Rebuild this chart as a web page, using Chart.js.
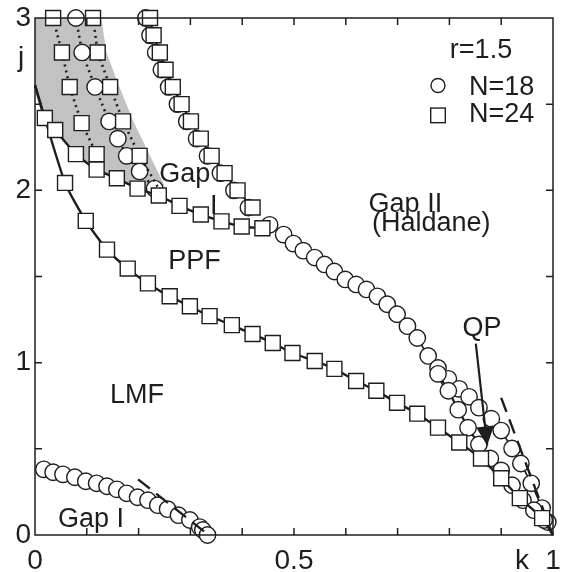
<!DOCTYPE html>
<html lang="en">
<head>
  <meta charset="UTF-8">
  <title>Phase diagram r=1.5</title>
  <script src="https://cdn.jsdelivr.net/npm/chart.js"></script>
  <style>
    * { margin: 0; padding: 0; box-sizing: border-box; }
    body { background: #fff; width: 565px; height: 572px; overflow: hidden; }
  </style>
</head>
<body>
<canvas id="phase" width="565" height="572"></canvas>

<script>
  // curve A: Gap I / PPF boundary (N=24 squares), starts at j axis
  const aX = [0, 0.019, 0.039, 0.079, 0.119, 0.158, 0.198, 0.239, 0.279, 0.320, 0.360, 0.399, 0.439];
  const aY = [2.61, 2.42, 2.35, 2.21, 2.12, 2.07, 2.01, 1.97, 1.91, 1.86, 1.82, 1.79, 1.78];

  // curve D: PPF / LMF boundary (N=24 squares)
  const dX = [0, 0.058, 0.098, 0.139, 0.179, 0.218, 0.260, 0.299, 0.337, 0.380, 0.420, 0.459, 0.497,
              0.540, 0.578, 0.620, 0.659, 0.699, 0.738, 0.778, 0.819, 0.861, 0.900, 0.936, 0.979, 1.0];
  const dY = [2.61, 2.043, 1.823, 1.656, 1.546, 1.460, 1.385, 1.327, 1.270, 1.218, 1.166, 1.114, 1.056,
              1.010, 0.964, 0.894, 0.837, 0.767, 0.704, 0.623, 0.537, 0.444, 0.329, 0.214, 0.098, 0];

  // curve B: upper Gap I boundary, squares (N=24) and circles (N=18)
  const bSqX = [0.222, 0.229, 0.241, 0.252, 0.266, 0.283, 0.301, 0.320, 0.341, 0.366, 0.391, 0.420];
  const bSqY = [3.0, 2.9, 2.8, 2.7, 2.6, 2.5, 2.4, 2.3, 2.2, 2.1, 2.0, 1.9];
  const bCiX = [0.214, 0.222, 0.233, 0.244, 0.258, 0.275, 0.293, 0.312, 0.333, 0.358, 0.384, 0.412];
  const bCiY = [3.0, 2.9, 2.8, 2.7, 2.6, 2.5, 2.4, 2.3, 2.2, 2.1, 2.0, 1.9];

  // Gap II (Haldane) boundary, N=18 circles
  const topX = [0.453, 0.480, 0.499, 0.518, 0.540, 0.559, 0.578, 0.599, 0.620, 0.640, 0.661, 0.680, 0.699, 0.719,
                0.738, 0.759, 0.778, 0.798, 0.819, 0.838, 0.857, 0.881, 0.900, 0.921, 0.938, 0.958, 0.979, 0.990];
  const topY = [1.800, 1.743, 1.691, 1.650, 1.610, 1.570, 1.529, 1.483, 1.454, 1.425, 1.385, 1.339, 1.281, 1.212,
                1.143, 1.039, 0.969, 0.906, 0.848, 0.802, 0.739, 0.675, 0.606, 0.502, 0.415, 0.300, 0.156, 0.075];

  // second N=18 branch running into k=1
  const cX = [0.778, 0.798, 0.817, 0.836, 0.857, 0.879, 0.900, 0.921, 0.942, 0.963, 0.983, 1.0];
  const cY = [0.935, 0.837, 0.727, 0.623, 0.525, 0.444, 0.375, 0.289, 0.202, 0.144, 0.087, 0];

  // lower Gap I boundary near origin, N=18 circles
  const llX = [0.017, 0.035, 0.054, 0.077, 0.098, 0.119, 0.139, 0.158, 0.177, 0.198, 0.218, 0.237,
               0.256, 0.277, 0.299, 0.318, 0.324, 0.333];
  const llY = [0.381, 0.364, 0.352, 0.335, 0.312, 0.300, 0.283, 0.265, 0.242, 0.219, 0.202, 0.173,
               0.150, 0.115, 0.087, 0.046, 0.029, 0.0];

  // dotted lines inside the shaded area
  const dot1X = [0.035, 0.052, 0.067, 0.090, 0.119];
  const dot1Y = [3.0, 2.80, 2.60, 2.39, 2.21];
  const dot2X = [0.079, 0.091, 0.116, 0.143, 0.160, 0.177, 0.202, 0.231];
  const dot2Y = [3.0, 2.80, 2.60, 2.40, 2.30, 2.20, 2.11, 2.01];
  const dot3X = [0.112, 0.121, 0.145, 0.170, 0.202, 0.237];
  const dot3Y = [3.0, 2.80, 2.60, 2.40, 2.20, 2.02];

  // shaded region outline
  const grayX = [0, 0.128, 0.138, 0.163, 0.190, 0.222, 0.250, 0.239, 0.198, 0.158, 0.119, 0.079, 0.039, 0.019, 0];
  const grayY = [3.0, 3.0, 2.80, 2.60, 2.40, 2.20, 2.03, 1.97, 2.01, 2.07, 2.12, 2.21, 2.35, 2.42, 2.61];

  // dashed guide lines and QP arrow
  const dashRX = [0.900, 0.998], dashRY = [0.796, 0.012];
  const dashLX = [0.199, 0.328], dashLY = [0.323, 0.017];
  const arrowX = [0.851, 0.873], arrowY = [1.11, 0.52];

  const xTickLabels = { 0: '0', 0.5: '0.5', 1: '1' };
  const yTickLabels = { 0: '0', 1: '1', 2: '2', 3: '3' };

  const INK = '#1e1e1e';
  const FONT = '"Liberation Sans", Arial, sans-serif';
  const R_CIRC = 8.2, R_SQ = 10.6;

  function pts(xs, ys) { return xs.map((x, i) => ({ x: x, y: ys[i] })); }

  const circ = { pointStyle: 'circle', pointRadius: R_CIRC, pointBorderWidth: 1.4,
                 pointBackgroundColor: '#fff', pointBorderColor: INK };
  const sq = { pointStyle: 'rect', pointRadius: R_SQ, pointBorderWidth: 1.4,
               pointBackgroundColor: '#fff', pointBorderColor: INK };

  // hide marker on the first / last point of a line
  const noEnds = (r) => (c) => (c.dataIndex === 0 || c.dataIndex === c.dataset.data.length - 1) ? 0 : r;
  const noFirst = (r) => (c) => c.dataIndex === 0 ? 0 : r;
  const noLast = (r) => (c) => c.dataIndex === c.dataset.data.length - 1 ? 0 : r;

  const frame = {
    id: 'frame',
    afterDraw(chart) {
      const ctx = chart.ctx, a = chart.chartArea;
      const xs = chart.scales.x, ys = chart.scales.y;
      const X = v => xs.getPixelForValue(v), Y = v => ys.getPixelForValue(v);
      ctx.save();
      ctx.strokeStyle = INK;
      ctx.lineWidth = 1.5;
      ctx.strokeRect(a.left, a.top, a.right - a.left, a.bottom - a.top);
      // inward ticks
      ctx.beginPath();
      for (let i = 1; i < 10; i++) {
        const px = X(i / 10);
        ctx.moveTo(px, a.bottom); ctx.lineTo(px, a.bottom - 7);
        ctx.moveTo(px, a.top); ctx.lineTo(px, a.top + 7);
      }
      for (let i = 1; i < 6; i++) {
        const py = Y(i / 2);
        ctx.moveTo(a.left, py); ctx.lineTo(a.left + 7, py);
        ctx.moveTo(a.right, py); ctx.lineTo(a.right - 7, py);
      }
      ctx.stroke();

      // QP arrowhead
      const x0 = X(arrowX[0]), y0 = Y(arrowY[0]), x1 = X(arrowX[1]), y1 = Y(arrowY[1]);
      const ang = Math.atan2(y1 - y0, x1 - x0), L = 19, W = 9;
      ctx.fillStyle = INK;
      ctx.beginPath();
      ctx.moveTo(x1, y1);
      ctx.lineTo(x1 - L * Math.cos(ang) + W * Math.sin(ang), y1 - L * Math.sin(ang) - W * Math.cos(ang));
      ctx.lineTo(x1 - L * Math.cos(ang) - W * Math.sin(ang), y1 - L * Math.sin(ang) + W * Math.cos(ang));
      ctx.closePath();
      ctx.fill();

      // region labels
      ctx.textBaseline = 'alphabetic';
      ctx.font = '27px ' + FONT;
      const t = (s, x, y, al) => { ctx.textAlign = al || 'center'; ctx.fillText(s, X(x), Y(y)); };
      t('Gap', 0.289, 2.05);
      t('I', 0.345, 1.864);
      t('PPF', 0.308, 1.546);
      t('LMF', 0.197, 0.767);
      t('Gap I', 0.108, 0.046);
      t('Gap II', 0.715, 1.875);
      t('(Haldane)', 0.765, 1.766);
      t('QP', 0.863, 1.154);
      t('r=1.5', 0.861, 2.77);
      t('N=18', 0.838, 2.556, 'left');
      t('N=24', 0.838, 2.395, 'left');
      ctx.font = '28px ' + FONT;
      t('k', 0.94, -0.195);
      t('j', -0.027, 2.72);

      // legend symbols
      ctx.lineWidth = 1.4;
      ctx.fillStyle = '#fff';
      ctx.beginPath();
      ctx.arc(X(0.778), Y(2.608), 7, 0, Math.PI * 2);
      ctx.fill(); ctx.stroke();
      ctx.fillRect(X(0.778) - 7.3, Y(2.435) - 7.3, 14.6, 14.6);
      ctx.strokeRect(X(0.778) - 7.3, Y(2.435) - 7.3, 14.6, 14.6);
      ctx.restore();
    }
  };

  const lineBase = { showLine: true, borderColor: INK, clip: false, pointHoverRadius: 0 };

  new Chart(document.getElementById('phase'), {
    type: 'scatter',
    data: {
      datasets: [
        Object.assign({}, lineBase, { data: pts(arrowX, arrowY), borderWidth: 2.2, pointRadius: 0, order: 0 }),
        Object.assign({}, lineBase, sq, { data: pts(bSqX, bSqY), borderWidth: 2, order: 1 }),
        Object.assign({}, lineBase, sq, { data: pts(aX, aY), borderWidth: 2.4, tension: 0.2,
          pointRadius: noFirst(R_SQ), order: 2 }),
        Object.assign({}, lineBase, sq, { data: pts(dX, dY), borderWidth: 2.4, tension: 0.2,
          pointRadius: noEnds(R_SQ), order: 3 }),
        Object.assign({}, lineBase, sq, { data: pts(dot1X, dot1Y), borderWidth: 2.6, borderDash: [2, 4], order: 4 }),
        Object.assign({}, lineBase, sq, { data: pts(dot3X, dot3Y), borderWidth: 2.6, borderDash: [2, 4],
          pointRadius: noLast(R_SQ), order: 4 }),
        Object.assign({}, lineBase, circ, { data: pts(dot2X, dot2Y), borderWidth: 2.6, borderDash: [2, 4], order: 5 }),
        Object.assign({}, lineBase, circ, { data: pts(bCiX, bCiY), showLine: false, order: 6 }),
        Object.assign({}, lineBase, { data: pts(dashRX, dashRY), borderWidth: 2.4, borderDash: [15, 8],
          pointRadius: 0, order: 6 }),
        Object.assign({}, lineBase, { data: pts(dashLX, dashLY), borderWidth: 2.4, borderDash: [15, 8],
          pointRadius: 0, order: 6 }),
        Object.assign({}, lineBase, circ, { data: pts(cX, cY), borderWidth: 2.2, pointRadius: noLast(R_CIRC), order: 7 }),
        Object.assign({}, lineBase, circ, { data: pts(topX, topY), borderWidth: 1.6, order: 8 }),
        Object.assign({}, lineBase, circ, { data: pts(llX, llY), showLine: false, order: 9 }),
        Object.assign({}, lineBase, { data: pts(grayX, grayY), borderWidth: 0, pointRadius: 0,
          fill: 'shape', backgroundColor: '#c2c2c2', order: 20 })
      ]
    },
    options: {
      responsive: false,
      animation: false,
      events: [],
      layout: { padding: { top: 15, right: 11, left: 0, bottom: 0 } },
      plugins: { legend: { display: false }, tooltip: { enabled: false } },
      scales: {
        x: {
          type: 'linear', min: 0, max: 1,
          grid: { display: false, drawTicks: false },
          border: { display: false },
          ticks: {
            stepSize: 0.5, padding: 3, color: INK, maxRotation: 0, autoSkip: false,
            font: { family: FONT, size: 28, lineHeight: 1.64 },
            callback: v => xTickLabels[v] !== undefined ? xTickLabels[v] : ''
          },
          afterFit: s => { s.height = 37; }
        },
        y: {
          type: 'linear', min: 0, max: 3,
          grid: { display: false, drawTicks: false },
          border: { display: false },
          ticks: {
            stepSize: 1, padding: 4, color: INK, autoSkip: false,
            font: { family: FONT, size: 28, lineHeight: 1 },
            callback: v => yTickLabels[v] !== undefined ? yTickLabels[v] : ''
          },
          afterFit: s => { s.width = 35; }
        }
      }
    },
    plugins: [frame]
  });
</script>
</body>
</html>
